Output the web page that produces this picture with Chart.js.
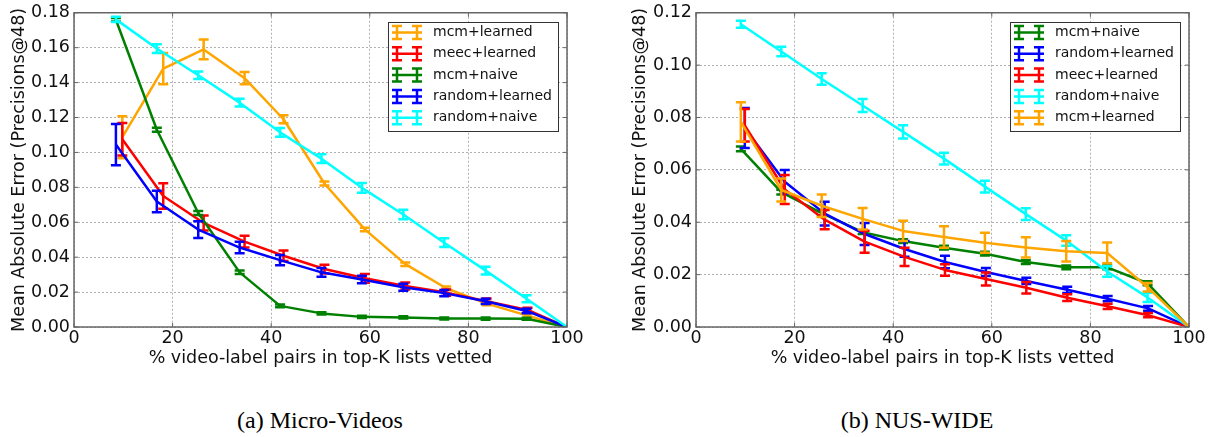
<!DOCTYPE html>
<html>
<head>
<meta charset="utf-8">
<script src="https://cdn.jsdelivr.net/npm/chart.js@4.4.0/dist/chart.umd.min.js"></script>
<style>
  body { margin: 0; background: #fff; width: 1211px; height: 437px; position: relative; overflow: hidden; }
  canvas { position: absolute; top: 0; }
  #c1 { left: 0; }
  #c2 { left: 605px; }
  .cap { position: absolute; top: 408px; line-height: 24px; font-family: "Liberation Serif", serif; font-size: 24px; color: #000; transform: translateX(-50%); white-space: nowrap; }
</style>
</head>
<body>
<canvas id="c1" width="605" height="380"></canvas>
<canvas id="c2" width="606" height="380"></canvas>
<div class="cap" style="left:320px">(a) Micro-Videos</div>
<div class="cap" style="left:917px">(b) NUS-WIDE</div>
<script>
// (a) Micro-Videos : % vetted
var mvX      = [8.5, 16.8, 25.2, 33.6, 41.8, 50.2, 58.4, 66.8, 75.1, 83.5, 91.8, 100];
var mvXLearn = [9.8, 18.1, 26.3, 34.6, 42.5, 50.8, 59.0, 67.2, 75.5, 83.7, 92.0, 100];

var mvMcmLearned    = [0.1087, 0.148, 0.159, 0.1425, 0.119, 0.0822, 0.0559, 0.036, 0.0222, 0.0134, 0.0065, 0];
var mvMcmLearnedErr = [0.012, 0.009, 0.0057, 0.0035, 0.0023, 0.0012, 0.001, 0.001, 0.001, 0.001, 0.001, 0];
var mvMeecLearned    = [0.1075, 0.075, 0.0596, 0.0489, 0.0408, 0.0332, 0.0279, 0.0235, 0.0197, 0.0148, 0.0098, 0];
var mvMeecLearnedErr = [0.0093, 0.0073, 0.0043, 0.0033, 0.003, 0.0025, 0.0025, 0.002, 0.0018, 0.0015, 0.0012, 0];
var mvMcmNaive    = [0.176, 0.113, 0.0653, 0.0313, 0.0121, 0.0078, 0.0058, 0.0055, 0.0049, 0.0048, 0.0047, 0];
var mvMcmNaiveErr = [0.001, 0.0012, 0.0012, 0.001, 0.0008, 0.0006, 0.0006, 0.0006, 0.0006, 0.0006, 0.0006, 0];
var mvRandLearned    = [0.1045, 0.0719, 0.0558, 0.0455, 0.0383, 0.0313, 0.0272, 0.0228, 0.0194, 0.0147, 0.0092, 0];
var mvRandLearnedErr = [0.0118, 0.0062, 0.0048, 0.0033, 0.003, 0.0025, 0.0022, 0.002, 0.0018, 0.0015, 0.0013, 0];
var mvRandNaive    = [0.1762, 0.1595, 0.1442, 0.1285, 0.1115, 0.0964, 0.0797, 0.0644, 0.0483, 0.0323, 0.0162, 0];
var mvRandNaiveErr = [0.0015, 0.0025, 0.0022, 0.0022, 0.0025, 0.0025, 0.0028, 0.0027, 0.0025, 0.0022, 0.002, 0];

// (b) NUS-WIDE
var nwX      = [9.1, 17.3, 25.5, 33.8, 42.0, 50.3, 58.6, 66.9, 75.1, 83.4, 91.6, 100];
var nwXLearn = [9.9, 18.0, 26.1, 34.2, 42.3, 50.5, 58.8, 67.0, 75.3, 83.5, 91.7, 100];

var nwMcmNaive    = [0.068, 0.0515, 0.0435, 0.0362, 0.0328, 0.0303, 0.028, 0.0248, 0.0228, 0.0228, 0.0167, 0];
var nwMcmNaiveErr = [0.0009, 0.0009, 0.0008, 0.0007, 0.0007, 0.0007, 0.0007, 0.0007, 0.0007, 0.0007, 0.0008, 0];
var nwRandLearned    = [0.076, 0.0555, 0.0433, 0.0355, 0.0298, 0.0248, 0.021, 0.0176, 0.0142, 0.0108, 0.0071, 0];
var nwRandLearnedErr = [0.0076, 0.0045, 0.0045, 0.0042, 0.003, 0.0024, 0.0015, 0.0012, 0.0012, 0.001, 0.0009, 0];
var nwMeecLearned    = [0.077, 0.0525, 0.041, 0.0326, 0.0268, 0.0218, 0.0183, 0.015, 0.0112, 0.0079, 0.0045, 0];
var nwMeecLearnedErr = [0.0062, 0.0055, 0.0037, 0.0042, 0.0035, 0.0022, 0.0025, 0.0022, 0.0013, 0.001, 0.0008, 0];
var nwRandNaive    = [0.1156, 0.1052, 0.0947, 0.0846, 0.0745, 0.0643, 0.0536, 0.0431, 0.033, 0.0212, 0.0113, 0];
var nwRandNaiveErr = [0.0013, 0.0018, 0.0022, 0.0025, 0.0025, 0.0022, 0.0022, 0.0022, 0.002, 0.002, 0.0018, 0];
var nwMcmLearned    = [0.0783, 0.0523, 0.0463, 0.0413, 0.0367, 0.0344, 0.0322, 0.0304, 0.0289, 0.0283, 0.0152, 0];
var nwMcmLearnedErr = [0.0075, 0.0044, 0.0043, 0.0041, 0.0039, 0.0041, 0.0038, 0.0039, 0.0039, 0.004, 0.0016, 0];

var xTicks = [0, 20, 40, 60, 80, 100];
var font = '"DejaVu Sans", sans-serif';

function serie(label, color, xs, ys, errs) {
    return {
        label: label,
        data: xs.map(function (x, i) { return { x: x, y: ys[i] }; }),
        errors: errs,
        borderColor: color,
        backgroundColor: color,
        borderWidth: 2.5,
        borderJoinStyle: 'round',
        pointRadius: 0,
        tension: 0,
        fill: false
    };
}

// error bars with caps, drawn right after each line so layering matches
var errorBars = {
    id: 'errorBars',
    afterDatasetDraw: function (chart, args) {
        var ds = chart.data.datasets[args.index];
        var sx = chart.scales.x, sy = chart.scales.y, ctx = chart.ctx;
        ctx.save();
        ctx.strokeStyle = ds.borderColor;
        ctx.lineWidth = 2.5;
        ctx.beginPath();
        ds.data.forEach(function (p, i) {
            var e = ds.errors[i];
            if (!e) return;
            var px = sx.getPixelForValue(p.x);
            var top = sy.getPixelForValue(p.y + e), bot = sy.getPixelForValue(p.y - e);
            ctx.moveTo(px, top); ctx.lineTo(px, bot);
            ctx.moveTo(px - 5, top); ctx.lineTo(px + 5, top);
            ctx.moveTo(px - 5, bot); ctx.lineTo(px + 5, bot);
        });
        ctx.stroke();
        ctx.restore();
    }
};

// box around the plot with small inward ticks
var frame = {
    id: 'frame',
    afterDatasetsDraw: function (chart) {
        var a = chart.chartArea, ctx = chart.ctx;
        var sx = chart.scales.x, sy = chart.scales.y;
        ctx.save();
        ctx.strokeStyle = '#666';
        ctx.lineWidth = 1;
        ctx.beginPath();
        sx.ticks.forEach(function (t) {
            var px = sx.getPixelForValue(t.value);
            ctx.moveTo(px, a.bottom); ctx.lineTo(px, a.bottom - 4);
            ctx.moveTo(px, a.top); ctx.lineTo(px, a.top + 4);
        });
        sy.ticks.forEach(function (t) {
            var py = sy.getPixelForValue(t.value);
            ctx.moveTo(a.left, py); ctx.lineTo(a.left + 4, py);
            ctx.moveTo(a.right, py); ctx.lineTo(a.right - 4, py);
        });
        ctx.stroke();
        ctx.lineWidth = 1.5;
        ctx.strokeRect(a.left, a.top, a.right - a.left, a.bottom - a.top);
        ctx.restore();
    }
};

// matplotlib-like legend box in the upper right corner
var boxLegend = {
    id: 'boxLegend',
    afterDraw: function (chart) {
        var a = chart.chartArea, ctx = chart.ctx, sets = chart.data.datasets;
        ctx.save();
        ctx.font = '14px ' + font;
        var tw = Math.max.apply(null, sets.map(function (d) { return ctx.measureText(d.label).width; }));
        var w = 45 + tw + 6, h = 109;
        var left = Math.round(a.right - 9 - w), top = Math.round(a.top + 9);
        ctx.fillStyle = '#fff';
        ctx.fillRect(left, top, w, h);
        ctx.strokeStyle = '#333';
        ctx.lineWidth = 1;
        ctx.strokeRect(left + 0.5, top + 0.5, w, h);
        sets.forEach(function (d, i) {
            var cy = top + 10.5 + i * 21.3, x0 = left + 4;
            ctx.strokeStyle = d.borderColor;
            ctx.lineWidth = 2.5;
            ctx.beginPath();
            ctx.moveTo(x0, cy); ctx.lineTo(x0 + 30, cy);
            [x0 + 5, x0 + 25].forEach(function (vx) {
                ctx.moveTo(vx, cy - 6.5); ctx.lineTo(vx, cy + 6.5);
                ctx.moveTo(vx - 5, cy - 6.5); ctx.lineTo(vx + 5, cy - 6.5);
                ctx.moveTo(vx - 5, cy + 6.5); ctx.lineTo(vx + 5, cy + 6.5);
            });
            ctx.stroke();
            ctx.fillStyle = '#111';
            ctx.textBaseline = 'middle';
            ctx.fillText(d.label, left + 45, cy);
        });
        ctx.restore();
    }
};

function makeChart(id, sets, yMax, yWidth, yTitlePad, rightPad) {
    // later entries are drawn on top, like matplotlib
    sets.forEach(function (s, i) { s.order = sets.length - 1 - i; });
    return new Chart(document.getElementById(id), {
        type: 'line',
        data: { datasets: sets },
        options: {
            responsive: false,
            animation: false,
            events: [],
            layout: { padding: { top: 9, right: rightPad, left: 0, bottom: 0 } },
            plugins: { legend: { display: false }, tooltip: { enabled: false } },
            scales: {
                x: {
                    type: 'linear', min: 0, max: 100,
                    afterBuildTicks: function (s) { s.ticks = xTicks.map(function (v) { return { value: v }; }); },
                    afterFit: function (s) { s.height = 53; },
                    ticks: { padding: 3, color: '#111', maxRotation: 0, font: { family: font, size: 17.5, lineHeight: 1 } },
                    grid: { color: '#b0b0b0', lineWidth: 1, drawTicks: false },
                    border: { display: false, dash: [2, 2] },
                    title: { display: true, text: '% video-label pairs in top-K lists vetted', color: '#111',
                             font: { family: font, size: 17.5, lineHeight: 1.2 }, padding: { top: 0, bottom: 11.5 } }
                },
                y: {
                    type: 'linear', min: 0, max: yMax,
                    afterFit: function (s) { s.width = yWidth; },
                    ticks: { stepSize: 0.02, padding: 4, color: '#111', font: { family: font, size: 17.5, lineHeight: 1 },
                             callback: function (v) { return v.toFixed(2); } },
                    grid: { color: '#b0b0b0', lineWidth: 1, drawTicks: false },
                    border: { display: false, dash: [2, 2] },
                    title: { display: true, text: 'Mean Absolute Error (Precisions@48)', color: '#111',
                             font: { family: font, size: 17.5, lineHeight: 1.2 }, padding: { top: yTitlePad, bottom: 0 } }
                }
            }
        },
        plugins: [errorBars, frame, boxLegend]
    });
}

makeChart('c1', [
    serie('mcm+learned', '#FFA500', mvXLearn, mvMcmLearned, mvMcmLearnedErr),
    serie('meec+learned', '#FF0000', mvXLearn, mvMeecLearned, mvMeecLearnedErr),
    serie('mcm+naive', '#008000', mvX, mvMcmNaive, mvMcmNaiveErr),
    serie('random+learned', '#0000FF', mvX, mvRandLearned, mvRandLearnedErr),
    serie('random+naive', '#00FFFF', mvX, mvRandNaive, mvRandNaiveErr)
], 0.18, 74, 9, 38);

makeChart('c2', [
    serie('mcm+naive', '#008000', nwX, nwMcmNaive, nwMcmNaiveErr),
    serie('random+learned', '#0000FF', nwXLearn, nwRandLearned, nwRandLearnedErr),
    serie('meec+learned', '#FF0000', nwXLearn, nwMeecLearned, nwMeecLearnedErr),
    serie('random+naive', '#00FFFF', nwX, nwRandNaive, nwRandNaiveErr),
    serie('mcm+learned', '#FFA500', nwX, nwMcmLearned, nwMcmLearnedErr)
], 0.12, 91, 24.5, 22);
</script>
</body>
</html>
